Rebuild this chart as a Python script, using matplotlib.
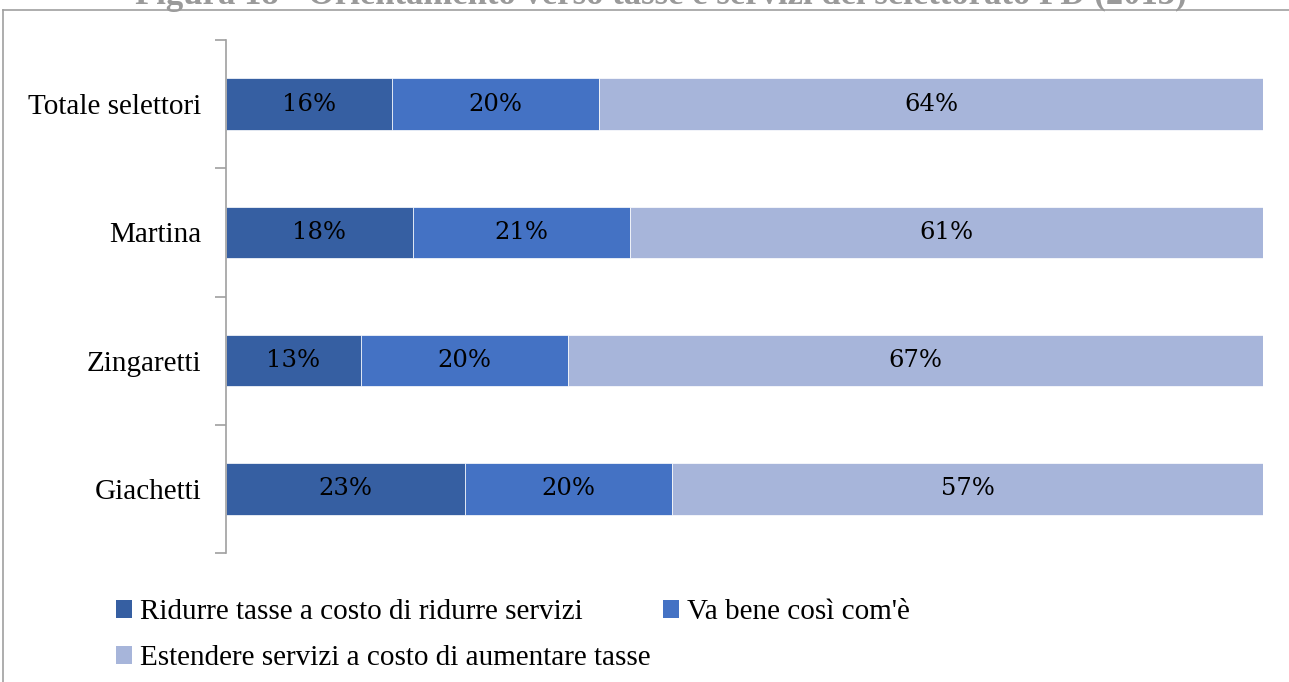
import matplotlib.pyplot as plt
from matplotlib.patches import Patch
from matplotlib.lines import Line2D
import numpy as np

# Orientamento verso tasse e servizi, quote per candidato
categories = ["Totale selettori", "Martina", "Zingaretti", "Giachetti"]
ridurre = [16, 18, 13, 23]
va_bene = [20, 21, 20, 20]
estendere = [64, 61, 67, 57]

series_names = [
    "Ridurre tasse a costo di ridurre servizi",
    "Va bene così com'è",
    "Estendere servizi a costo di aumentare tasse",
]
colors = ["#365FA2", "#4472C4", "#A7B5DA"]

W, H = 1289, 682
fig = plt.figure(figsize=(W / 100, H / 100), dpi=100)
plt.rcParams["font.family"] = ["Liberation Serif", "DejaVu Serif"]

# frame around the chart area
grey = "#A0A0A0"
fig.add_artist(Line2D([3 / W, 1], [1 - 10 / H, 1 - 10 / H], color=grey, lw=1.2))
fig.add_artist(Line2D([3 / W, 3 / W], [0, 1 - 10 / H], color=grey, lw=1.2))

# title partly cut off at the top edge
fig.text(0.513, 1 + 5 / H,
         "Figura 18 - Orientamento verso tasse e servizi del selettorato PD (2013)",
         ha="center", va="center", fontsize=25, fontweight="bold", color="#9A9A9A")

ax = fig.add_axes([226 / W, 1 - 553 / H, (1263 - 226) / W, (553 - 40) / H])

y = np.arange(len(categories))
values = [ridurre, va_bene, estendere]
left = np.zeros(len(categories))
for vals, col, name in zip(values, colors, series_names):
    vals = np.array(vals, dtype=float)
    bars = ax.barh(y, vals, left=left, height=0.4, color=col,
                   edgecolor="white", linewidth=0.5, label=name)
    for b, v in zip(bars, vals):
        ax.text(b.get_x() + b.get_width() / 2, b.get_y() + b.get_height() / 2,
                f"{int(v)}%", ha="center", va="center", fontsize=17.5,
                family=["DejaVu Serif"], color="black")
    left += vals

ax.set_xlim(0, 100)
ax.set_ylim(3.5, -0.5)
ax.set_yticks(y)
ax.set_yticklabels(categories, fontsize=21)
ax.tick_params(axis="y", which="major", length=0, pad=18)
ax.set_yticks(np.arange(-0.5, 4, 1), minor=True)
ax.tick_params(axis="y", which="minor", length=8, color=grey, width=1.2)
ax.set_xticks([])
for s in ["top", "right", "bottom"]:
    ax.spines[s].set_visible(False)
ax.spines["left"].set_color(grey)
ax.spines["left"].set_linewidth(1.2)

# legend: two items on the first row, one on the second
handles = [Patch(facecolor=c) for c in colors]
order = [0, 2, 1]
fig.legend([handles[i] for i in order], [series_names[i] for i in order],
           ncol=2, loc="upper left", bbox_to_anchor=(90 / W, 1 - 573 / H),
           frameon=False, fontsize=21, handlelength=0.55, handleheight=0.55,
           handletextpad=0.25, columnspacing=0.45, labelspacing=0.68)

fig.savefig("out.png", dpi=100)
